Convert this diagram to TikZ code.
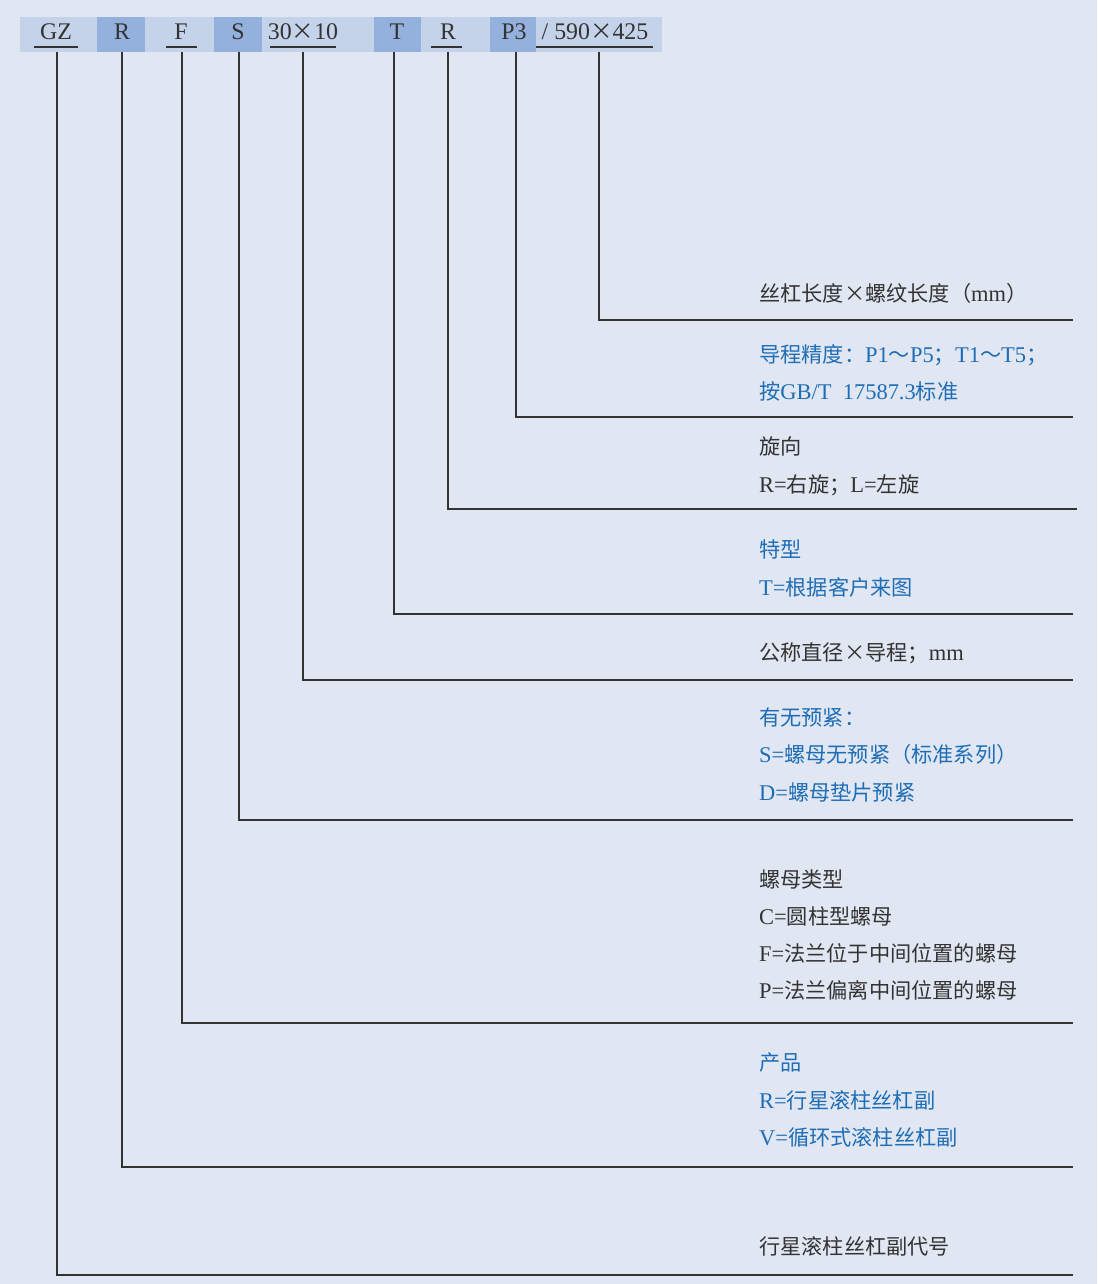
\documentclass[tikz,border=0pt]{standalone}
\usepackage{fontspec}
\setmainfont[Scale=1.06]{Liberation Serif}
\newfontfamily\cjk{Noto Sans CJK SC}
\newcommand\zh[1]{{\cjk #1}}
\definecolor{bg}{HTML}{E0E7F3}
\definecolor{band}{HTML}{C5D3EA}
\definecolor{dbox}{HTML}{94B0DC}
\definecolor{ink}{HTML}{333333}
\definecolor{blu}{HTML}{1F6DB5}
\begin{document}
\begin{tikzpicture}[x=1pt,y=-1pt,
  txt/.style={anchor=base west, inner sep=0pt, font=\fontsize{21.2}{24}\selectfont, text=ink},
  btxt/.style={txt, text=blu},
  code/.style={anchor=base, inner sep=0pt, font=\fontsize{22.5}{24}\selectfont, text=ink},
  ln/.style={draw=ink, line width=1.6pt},
  ul/.style={draw=ink, line width=1.6pt}]
\fill[bg] (0,0) rectangle (1097,1284);
\useasboundingbox (0,0) rectangle (1097,1284);
% header band
\fill[band] (20,17) rectangle (662,52);
\foreach \a/\b in {97/145,214/262,374/421,490/536}
  \fill[dbox] (\a,17) rectangle (\b,52);
% codes
\node[code] (gz) at (56,40) {GZ};
\node[code] (r1) at (122,40) {R};
\node[code] (f) at (181,40) {F};
\node[code] (s) at (238,40) {S};
\node[code] (dim) at (303,40) {30\zh{×}10};
\node[code] (t) at (397,40) {T};
\node[code] (r2) at (448,40) {R};
\node[code] (p3) at (514,40) {P3};
\node[code] (len) at (595,40) {/ 590\zh{×}425};
% underlines
\draw[ul] (34,47) -- (78,47);
\draw[ul] (166,47) -- (197,47);
\draw[ul] (270,47) -- (336,47);
\draw[ul] (431,47) -- (462,47);
\draw[ul] (536,47) -- (653,47);
% tops of leaders
\coordinate (tgz) at (57,52);
\coordinate (tr1) at (122,52);
\coordinate (tf) at (182,52);
\coordinate (ts) at (239,52);
\coordinate (tdim) at (303,52);
\coordinate (tt) at (394,52);
\coordinate (tr2) at (448,52);
\coordinate (tp3) at (516,52);
\coordinate (tlen) at (599,52);
% right ends
\coordinate (egz) at (1073,1275);
\coordinate (er1) at (1073,1167);
\coordinate (ef) at (1073,1023);
\coordinate (es) at (1073,820);
\coordinate (edim) at (1073,680);
\coordinate (et) at (1073,614);
\coordinate (er2) at (1077,509);
\coordinate (ep3) at (1073,417);
\coordinate (elen) at (1073,320);
% leaders
\draw[ln] (tgz) |- (egz);
\draw[ln] (tr1) |- (er1);
\draw[ln] (tf) |- (ef);
\draw[ln] (ts) |- (es);
\draw[ln] (tdim) |- (edim);
\draw[ln] (tt) |- (et);
\draw[ln] (tr2) |- (er2);
\draw[ln] (tp3) |- (ep3);
\draw[ln] (tlen) |- (elen);
% descriptions
\node[txt] (d1) at (759,301) {\zh{丝杠长度×螺纹长度（}mm\zh{）}};
\node[btxt] (d2a) at (759,362) {\zh{导程精度：}P1\zh{～}P5\zh{；}T1\zh{～}T5\zh{；}};
\node[btxt] (d2b) at (759,399) {\zh{按}GB/T\ \ 17587.3\zh{标准}};
\node[txt] (d3a) at (759,454) {\zh{旋向}};
\node[txt] (d3b) at (759,492) {R=\zh{右旋；}L=\zh{左旋}};
\node[btxt] (d4a) at (759,557) {\zh{特型}};
\node[btxt] (d4b) at (759,595) {T=\zh{根据客户来图}};
\node[txt] (d5) at (759,660) {\zh{公称直径×导程；}mm};
\node[btxt] (d6a) at (759,725) {\zh{有无预紧：}};
\node[btxt] (d6b) at (759,762) {S=\zh{螺母无预紧（标准系列）}};
\node[btxt] (d6c) at (759,800) {D=\zh{螺母垫片预紧}};
\node[txt] (d7a) at (759,887) {\zh{螺母类型}};
\node[txt] (d7b) at (759,924) {C=\zh{圆柱型螺母}};
\node[txt] (d7c) at (759,961) {F=\zh{法兰位于中间位置的螺母}};
\node[txt] (d7d) at (759,998) {P=\zh{法兰偏离中间位置的螺母}};
\node[btxt] (d8a) at (759,1070) {\zh{产品}};
\node[btxt] (d8b) at (759,1108) {R=\zh{行星滚柱丝杠副}};
\node[btxt] (d8c) at (759,1145) {V=\zh{循环式滚柱丝杠副}};
\node[txt] (d9) at (759,1254) {\zh{行星滚柱丝杠副代号}};
\end{tikzpicture}
\end{document}
